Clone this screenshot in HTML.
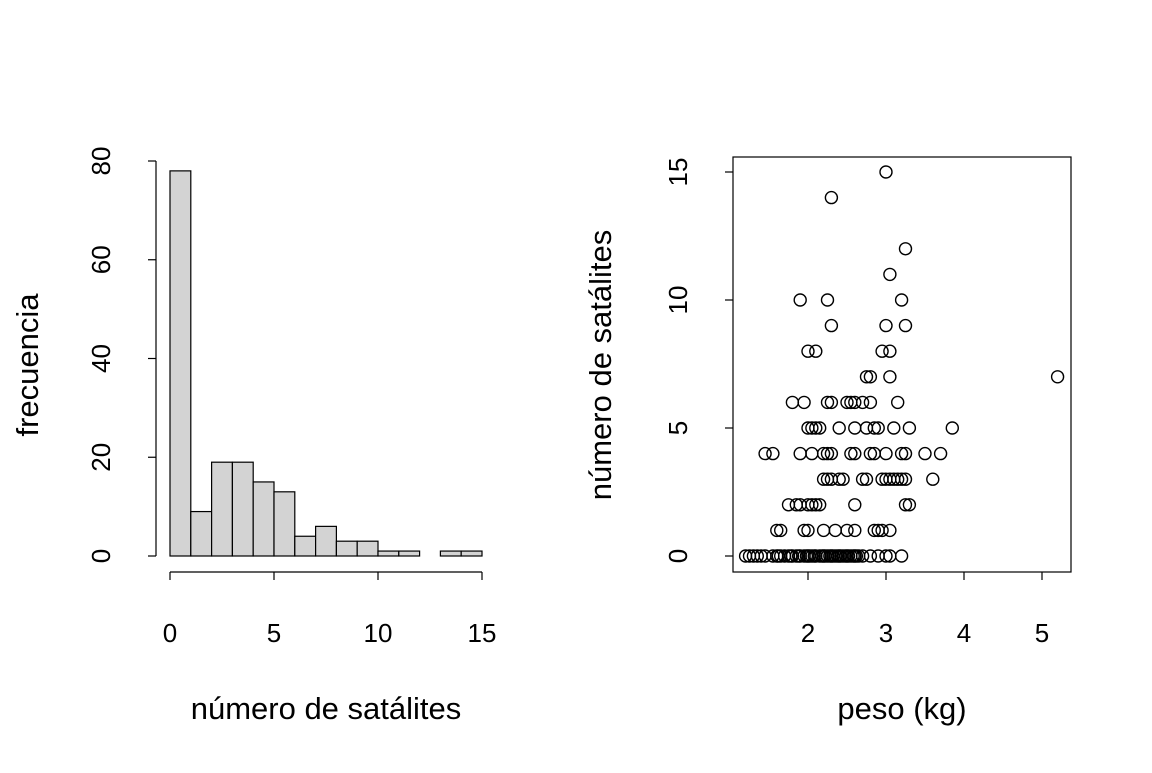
<!DOCTYPE html>
<html><head><meta charset="utf-8"><style>
body{margin:0;background:#fff}
text{font-family:"Liberation Sans",Arial,sans-serif;fill:#000}
</style></head><body>
<svg id="s" width="1152" height="768" xmlns="http://www.w3.org/2000/svg">
<g id="h"></g>
<g id="p"></g>
</svg>
<script>
const histCounts=[78,9,19,19,15,13,4,6,3,3,1,1,0,1,1];
const histXTicks=[0,5,10,15];
const histYTicks=[0,20,40,60,80];
const scatXTicks=[2,3,4,5];
const scatYTicks=[0,5,10,15];
const sat0=[1.2,1.25,1.3,1.35,1.4,1.45,1.55,1.6,1.62,1.65,1.7,1.75,1.78,1.8,1.85,1.88,1.9,1.95,1.98,2.0,2.02,2.05,2.08,2.1,2.15,2.18,2.2,2.22,2.25,2.28,2.3,2.32,2.35,2.38,2.4,2.42,2.45,2.48,2.5,2.52,2.55,2.58,2.6,2.62,2.65,2.7,2.8,2.9,3.0,3.05,3.2];
const sat1=[1.6,1.65,1.95,2.0,2.2,2.35,2.5,2.6,2.85,2.9,2.95,3.05];
const sat2=[1.75,1.85,1.9,2.0,2.05,2.1,2.15,2.6,3.25,3.3];
const sat3=[2.2,2.25,2.3,2.4,2.45,2.7,2.75,2.95,3.0,3.05,3.1,3.15,3.2,3.25,3.6];
const sat4=[1.45,1.55,1.9,2.05,2.2,2.25,2.3,2.55,2.6,2.8,2.85,3.0,3.2,3.25,3.5,3.7];
const sat5=[2.0,2.05,2.1,2.15,2.4,2.6,2.75,2.85,2.9,3.1,3.3,3.85];
const sat6=[1.8,1.95,2.25,2.3,2.5,2.55,2.6,2.7,2.8,3.15];
const sat7=[2.75,2.8,3.05,5.2];
const sat8=[2.0,2.1,2.95,3.05];
const sat9=[2.3,3.0,3.25];
const sat10=[1.9,2.25,3.2];
const sat11=[3.05];
const sat12=[3.25];
const sat14=[2.3];
const sat15=[3.0];
const satLevels=[[0,sat0],[1,sat1],[2,sat2],[3,sat3],[4,sat4],[5,sat5],[6,sat6],[7,sat7],[8,sat8],[9,sat9],[10,sat10],[11,sat11],[12,sat12],[14,sat14],[15,sat15]];

const NS="http://www.w3.org/2000/svg";
function mk(par,tag,at,txt){const e=document.createElementNS(NS,tag);for(const k in at)e.setAttribute(k,at[k]);if(txt!==undefined)e.textContent=txt;par.appendChild(e);return e;}
const H=document.getElementById('h'),P=document.getElementById('p');
const hx=v=>170+v*20.8, hy=v=>556-v*4.9375;
histCounts.forEach((c,i)=>{
 const r=mk(H,'rect',{x:hx(i),y:hy(c),width:hx(i+1)-hx(i),height:hy(0)-hy(c),fill:'#d3d3d3',stroke:'#000','stroke-width':1.2});
 
 
});
mk(H,'line',{x1:hx(0),x2:hx(15),y1:572,y2:572,stroke:'#000','stroke-width':1.2});
histXTicks.forEach(t=>{mk(H,'line',{x1:hx(t),x2:hx(t),y1:572,y2:580,stroke:'#000','stroke-width':1.2});
 const l=mk(H,'text',{x:hx(t),y:642,'font-size':26,'text-anchor':'middle'},t);});
mk(H,'line',{x1:156,x2:156,y1:hy(0),y2:hy(80),stroke:'#000','stroke-width':1.2});
histYTicks.forEach(t=>{mk(H,'line',{x1:148,x2:156,y1:hy(t),y2:hy(t),stroke:'#000','stroke-width':1.2});
 const l=mk(H,'text',{x:0,y:0,'font-size':26,'text-anchor':'middle',transform:`translate(110,${hy(t)}) rotate(-90)`},t);});
let t1=mk(H,'text',{x:326,y:719,'font-size':31,'text-anchor':'middle'},'número de satálites');
let t2=mk(H,'text',{x:0,y:0,'font-size':31,'text-anchor':'middle',transform:'translate(38,365) rotate(-90)'},'frecuencia');

const px=v=>808+(v-2)*78, py=v=>556-v*25.6;
mk(P,'rect',{x:733,y:157,width:338,height:415,fill:'none',stroke:'#000','stroke-width':1.2});
satLevels.forEach(([n,arr])=>arr.forEach(w=>{
 const c=mk(P,'circle',{cx:px(w),cy:py(n),r:6,fill:'none',stroke:'#000','stroke-width':1.4});
 
 
}));
scatXTicks.forEach(t=>{mk(P,'line',{x1:px(t),x2:px(t),y1:572,y2:580,stroke:'#000','stroke-width':1.2});
 const l=mk(P,'text',{x:px(t),y:642,'font-size':26,'text-anchor':'middle'},t);});
scatYTicks.forEach(t=>{mk(P,'line',{x1:725,x2:733,y1:py(t),y2:py(t),stroke:'#000','stroke-width':1.2});
 const l=mk(P,'text',{x:0,y:0,'font-size':26,'text-anchor':'middle',transform:`translate(687,${py(t)}) rotate(-90)`},t);});
let t3=mk(P,'text',{x:902,y:719,'font-size':31,'text-anchor':'middle'},'peso (kg)');
let t4=mk(P,'text',{x:0,y:0,'font-size':31,'text-anchor':'middle',transform:'translate(611,365) rotate(-90)'},'número de satálites');
</script>
</body></html>
